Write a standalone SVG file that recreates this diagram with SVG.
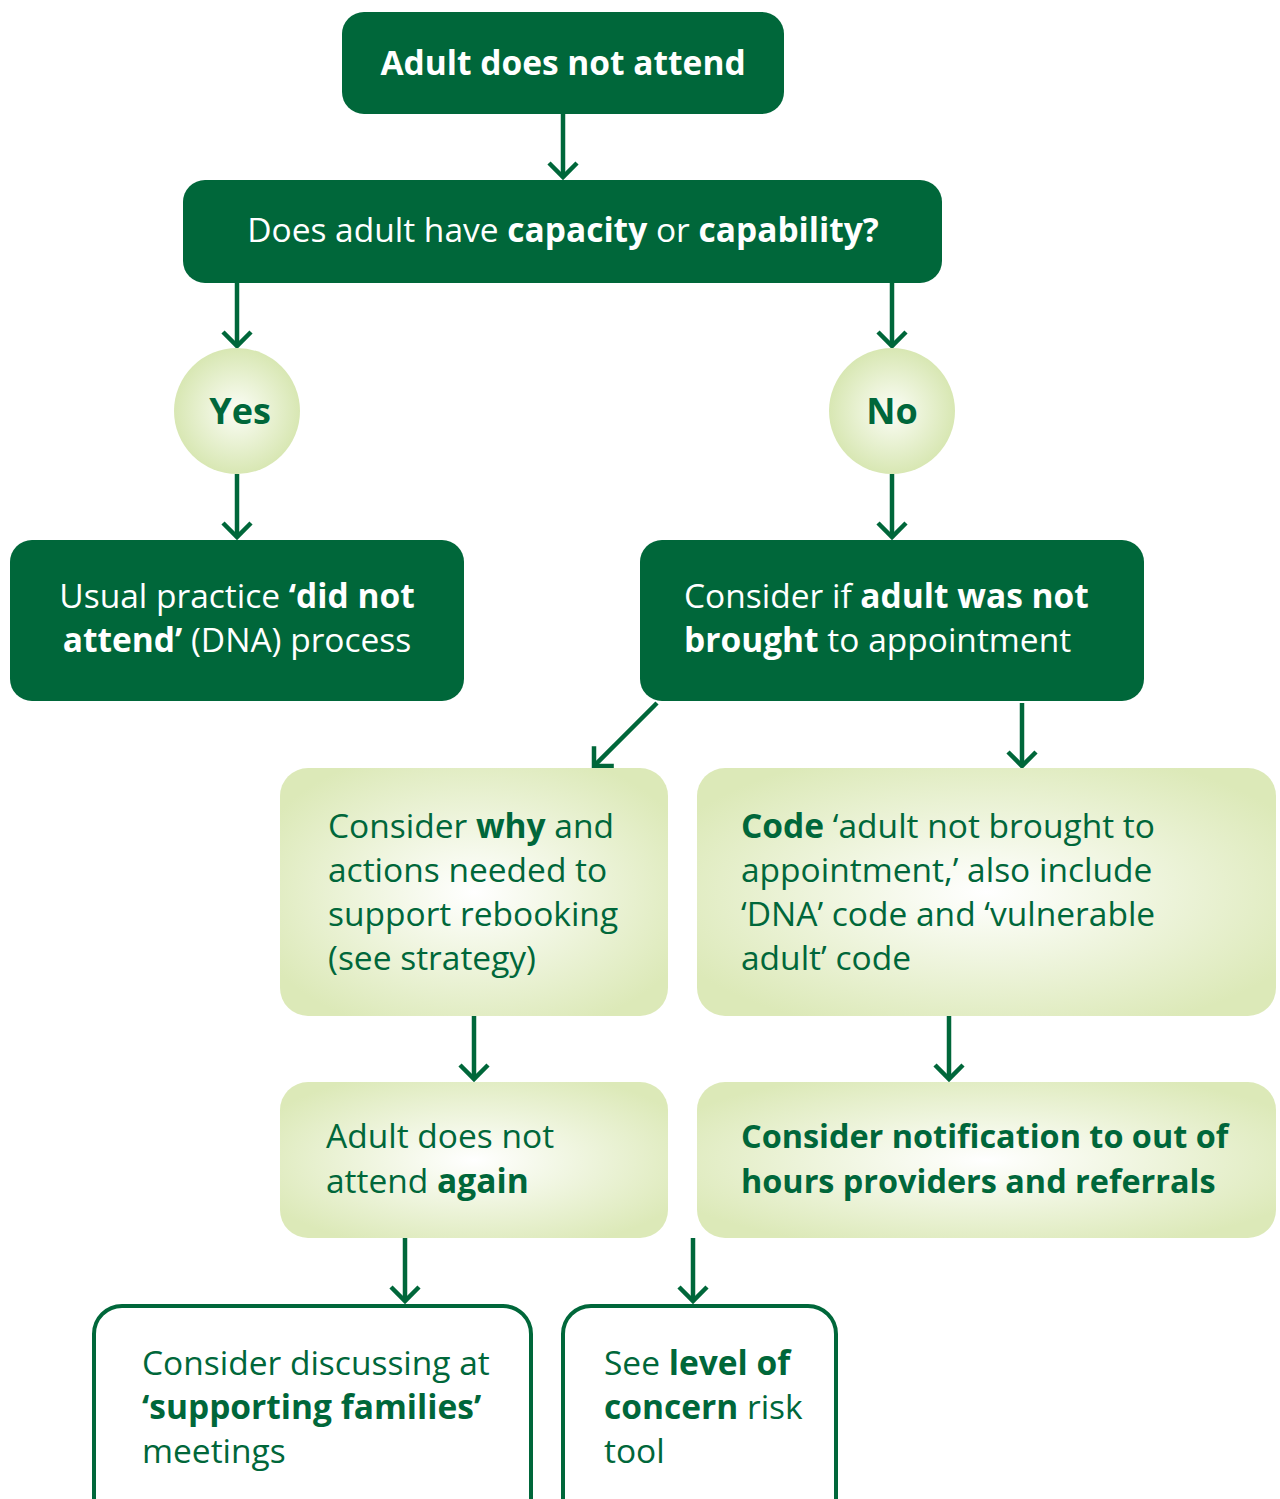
<svg xmlns="http://www.w3.org/2000/svg" width="1280" height="1499" viewBox="0 0 1280 1499">
<defs>
<radialGradient id="lg" cx="50%" cy="50%" r="60%">
<stop offset="0" stop-color="#FFFFFF"/>
<stop offset="1" stop-color="#DCE9B8"/>
</radialGradient>
<radialGradient id="cg" cx="50%" cy="50%" r="50%">
<stop offset="0" stop-color="#FBFDF6"/>
<stop offset="1" stop-color="#D8E7B3"/>
</radialGradient>
<marker id="ah" markerUnits="userSpaceOnUse" markerWidth="40" markerHeight="40" viewBox="-20 -20 40 40" refX="0" refY="0" orient="auto">
<path d="M-14,-14 L0,0 L-14,14" fill="none" stroke="#00673A" stroke-width="4.5"/>
</marker>
<style>
.dk{fill:#00673A}
.lt{fill:url(#lg)}
.ol{fill:#FFFFFF;stroke:#00673A;stroke-width:4}
.t{font-family:"Open Sans","Noto Sans","Liberation Sans",sans-serif;font-size:33.5px}
.yn{font-size:36px}
.nf{font-size:32.4px}
.w{fill:#FFFFFF}
.g{fill:#00673A}
.b{font-weight:bold}
.c{stroke:#00673A;stroke-width:4.5;fill:none;marker-end:url(#ah)}
</style>
</defs>

<g id="connectors">
<line class="c" x1="563" y1="114" x2="563" y2="177"/>
<line class="c" x1="237" y1="283" x2="237" y2="346"/>
<line class="c" x1="892" y1="283" x2="892" y2="346"/>
<line class="c" x1="237" y1="474" x2="237" y2="537"/>
<line class="c" x1="892" y1="474" x2="892" y2="537"/>
<line class="c" x1="657" y1="703" x2="594" y2="766"/>
<line class="c" x1="1022" y1="703" x2="1022" y2="766"/>
<line class="c" x1="474" y1="1016" x2="474" y2="1079"/>
<line class="c" x1="949" y1="1016" x2="949" y2="1079"/>
<line class="c" x1="405" y1="1238" x2="405" y2="1301"/>
<line class="c" x1="693" y1="1238" x2="693" y2="1301"/>
</g>

<g id="n-start">
<rect class="dk" x="342" y="12" width="442" height="102" rx="22"/>
<text class="t w b" x="563" y="75" text-anchor="middle">Adult does not attend</text>
</g>

<g id="n-capacity">
<rect class="dk" x="183" y="180" width="759" height="103" rx="22"/>
<text class="t w" x="563" y="242" text-anchor="middle">Does adult have <tspan class="b">capacity</tspan> or <tspan class="b">capability?</tspan></text>
</g>

<g id="n-yes">
<circle cx="237" cy="411" r="63" fill="url(#cg)"/>
<text class="t yn g b" x="240" y="424" text-anchor="middle">Yes</text>
</g>

<g id="n-no">
<circle cx="892" cy="411" r="63" fill="url(#cg)"/>
<text class="t yn g b" x="892" y="424" text-anchor="middle">No</text>
</g>

<g id="n-dna">
<rect class="dk" x="10" y="540" width="454" height="161" rx="22"/>
<text class="t w" x="237" y="608" text-anchor="middle">Usual practice <tspan class="b">‘did not</tspan></text>
<text class="t w" x="237" y="652" text-anchor="middle"><tspan class="b">attend’</tspan> (DNA) process</text>
</g>

<g id="n-brought">
<rect class="dk" x="640" y="540" width="504" height="161" rx="22"/>
<text class="t w" x="684" y="608">Consider if <tspan class="b">adult was not</tspan></text>
<text class="t w" x="684" y="652"><tspan class="b">brought</tspan> to appointment</text>
</g>

<g id="n-why">
<rect class="lt" x="280" y="768" width="388" height="248" rx="28"/>
<text class="t g" x="328" y="838">Consider <tspan class="b">why</tspan> and</text>
<text class="t g" x="328" y="882">actions needed to</text>
<text class="t g" x="328" y="926">support rebooking</text>
<text class="t g" x="328" y="970">(see strategy)</text>
</g>

<g id="n-code">
<rect class="lt" x="697" y="768" width="579" height="248" rx="28"/>
<text class="t g" x="741" y="838"><tspan class="b">Code</tspan> ‘adult not brought to</text>
<text class="t g" x="741" y="882">appointment,’ also include</text>
<text class="t g" x="741" y="926">‘DNA’ code and ‘vulnerable</text>
<text class="t g" x="741" y="970">adult’ code</text>
</g>

<g id="n-again">
<rect class="lt" x="280" y="1082" width="388" height="156" rx="28"/>
<text class="t g" x="326" y="1148">Adult does not</text>
<text class="t g" x="326" y="1193">attend <tspan class="b">again</tspan></text>
</g>

<g id="n-notify">
<rect class="lt" x="697" y="1082" width="579" height="156" rx="28"/>
<text class="t nf g b" x="741" y="1148">Consider notification to out of</text>
<text class="t nf g b" x="741" y="1193">hours providers and referrals</text>
</g>

<g id="n-families">
<rect class="ol" x="94" y="1306" width="437" height="220" rx="28"/>
<text class="t g" x="142" y="1375">Consider discussing at</text>
<text class="t g b" x="142" y="1419">‘supporting families’</text>
<text class="t g" x="142" y="1463">meetings</text>
</g>

<g id="n-risk">
<rect class="ol" x="563" y="1306" width="273" height="220" rx="28"/>
<text class="t g" x="604" y="1375">See <tspan class="b">level of</tspan></text>
<text class="t g" x="604" y="1419"><tspan class="b">concern</tspan> risk</text>
<text class="t g" x="604" y="1463">tool</text>
</g>
</svg>
